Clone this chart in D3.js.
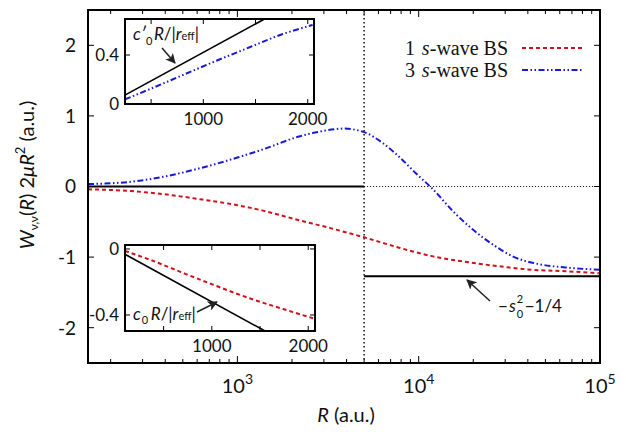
<!DOCTYPE html>
<html lang="en">
<head>
<meta charset="utf-8">
<title>W(R) curves</title>
<script src="https://d3js.org/d3.v7.min.js"></script>
<style>
body { margin: 0; background: white; }
text { font-family: Lato, "Noto Sans", sans-serif; fill: #111; white-space: pre; }
.frame { fill: none; stroke: black; stroke-width: 2; }
</style>
</head>
<body>
<script>

// main panel data
var rBlue = [150, 259, 395, 603, 1000, 1400, 2135, 2633, 3854, 5000, 6380, 7880, 9710, 12000, 15460, 19900, 25600, 33000, 46200, 64700, 100000];
var wBlue = [0.034, 0.067, 0.14, 0.25, 0.41, 0.53, 0.70, 0.76, 0.82, 0.77, 0.61, 0.41, 0.18, -0.04, -0.35, -0.61, -0.82, -0.99, -1.10, -1.147, -1.18];
var rRed = [150, 259, 395, 603, 1000, 1400, 2135, 3260, 5000, 7880, 12000, 18500, 27700, 42500, 64700, 100000];
var wRed = [-0.04, -0.065, -0.11, -0.175, -0.265, -0.345, -0.47, -0.59, -0.72, -0.87, -0.99, -1.07, -1.13, -1.18, -1.20, -1.23];
var rMatch = 5000;
var asym = -1.27;          // -s0^2 - 1/4
var yTicks = [-2, -1, 0, 1, 2];
var xMajor = [1e3, 1e4, 1e5];
var legendNames = ["1 ", "3 "];

// inset 1 (top)
var in1R = [250, 489, 806, 1125, 1443, 1760, 2047];
var in1W = [0.038, 0.122, 0.237, 0.353, 0.463, 0.571, 0.645];
var in1LineR = [250, 1586];
var in1LineW = [0.073, 0.694];
var in1YTicks = [0, 0.4];
// inset 2 (bottom)
var in2R = [100, 367, 710, 1020, 1397, 1740, 2050];
var in2W = [-0.012, -0.067, -0.147, -0.218, -0.30, -0.364, -0.42];
var in2LineR = [100, 1552];
var in2LineW = [-0.032, -0.497];
var in2YTicks = [0, -0.4];
var inXTicks = [500, 1000, 1500, 2000];
var inXLabels = [1000, 2000];

var red = "#d0101a", blue = "#1818d8";
var redDash = "4,3", blueDash = "6,2.5,1.5,2.5,1.5,2.5";

var svg = d3.select("body").append("svg")
  .attr("width", 626)
  .attr("height", 432);

var defs = svg.append("defs");
defs.append("marker")
  .attr("id", "head")
  .attr("viewBox", "0 0 10 10")
  .attr("refX", 9).attr("refY", 5)
  .attr("markerWidth", 10).attr("markerHeight", 10)
  .attr("markerUnits", "userSpaceOnUse")
  .attr("orient", "auto")
  .append("path").attr("d", "M0,0 L10,5 L0,10 L2.5,5 Z").attr("fill", "#222");

/* place pieces of text one after another, measuring each */
function rich(g, x, y, parts, size, anchor) {
  var grp = g.append("g");
  var cx = 0;
  parts.forEach(function(p) {
    var t = grp.append("text")
      .attr("x", cx).attr("y", p.dy || 0)
      .attr("font-size", p.s || size)
      .style("font-style", p.it ? "italic" : null)
      .style("font-family", p.f || null)
      .text(p.t);
    var w = t.node().getComputedTextLength();
    if (!p.stay) cx += w;
  });
  var off = anchor == "middle" ? -cx / 2 : anchor == "end" ? -cx : 0;
  grp.attr("transform", "translate(" + (x + off) + "," + y + ")");
  return grp;
}

// ---------- main panel
var x = d3.scaleLog().domain([150, 1e5]).range([88, 600]);
var y = d3.scaleLinear().domain([-2.5, 2.5]).range([363, 10]);

var main = svg.append("g");

// ticks
var minor = [];
[100, 1000, 10000].forEach(function(d) {
  for (var k = 2; k <= 9; k++) if (d * k >= 150 && d * k <= 1e5) minor.push(d * k);
});
minor.forEach(function(d) {
  main.append("line").attr("x1", x(d)).attr("x2", x(d)).attr("y1", 363).attr("y2", 359).attr("stroke", "black");
  main.append("line").attr("x1", x(d)).attr("x2", x(d)).attr("y1", 10).attr("y2", 14).attr("stroke", "black");
});
xMajor.forEach(function(d) {
  main.append("line").attr("x1", x(d)).attr("x2", x(d)).attr("y1", 363).attr("y2", 356).attr("stroke", "black");
  main.append("line").attr("x1", x(d)).attr("x2", x(d)).attr("y1", 10).attr("y2", 17).attr("stroke", "black");
  rich(main, x(d), 393, [{t: "10"}, {t: String(Math.round(Math.log10(d))), s: 14, dy: -9}], 20, "middle");
});
yTicks.forEach(function(d) {
  main.append("line").attr("x1", 88).attr("x2", 94).attr("y1", y(d)).attr("y2", y(d)).attr("stroke", "black");
  main.append("line").attr("x1", 600).attr("x2", 594).attr("y1", y(d)).attr("y2", y(d)).attr("stroke", "black");
  main.append("text").attr("x", 76).attr("y", y(d)).attr("dy", "0.36em")
    .attr("text-anchor", "end").attr("font-size", 19).text(d < 0 ? "-" + Math.abs(d) : d);
});

// reference lines
main.append("line").attr("x1", 88).attr("x2", x(rMatch)).attr("y1", y(0)).attr("y2", y(0))
  .attr("stroke", "black").attr("stroke-width", 2);
main.append("line").attr("x1", x(rMatch)).attr("x2", 600).attr("y1", y(0)).attr("y2", y(0))
  .attr("stroke", "black").attr("stroke-width", 1).attr("stroke-dasharray", "1,2");
main.append("line").attr("x1", x(rMatch)).attr("x2", x(rMatch)).attr("y1", 10).attr("y2", 363)
  .attr("stroke", "black").attr("stroke-width", 1.4).attr("stroke-dasharray", "1.5,2.5");
main.append("line").attr("x1", x(rMatch)).attr("x2", 600).attr("y1", y(asym)).attr("y2", y(asym))
  .attr("stroke", "black").attr("stroke-width", 2);

var lineMain = d3.line().curve(d3.curveMonotoneX)
  .x(function(d) { return x(d[0]); }).y(function(d) { return y(d[1]); });
main.append("path").datum(d3.zip(rRed, wRed)).attr("d", lineMain)
  .attr("fill", "none").attr("stroke", red).attr("stroke-width", 2).attr("stroke-dasharray", redDash);
main.append("path").datum(d3.zip(rBlue, wBlue)).attr("d", lineMain)
  .attr("fill", "none").attr("stroke", blue).attr("stroke-width", 2).attr("stroke-dasharray", blueDash);

main.append("rect").attr("class", "frame").attr("x", 88).attr("y", 10).attr("width", 512).attr("height", 353);

// legend
[[red, redDash], [blue, blueDash]].forEach(function(s, i) {
  var ly = 48 + i * 22;
  rich(main, 512, ly + 7, [{t: legendNames[i]}, {t: "s", it: true}, {t: "-wave BS"}], 20, "end")
    .selectAll("text").style("font-family", "'Liberation Serif', serif");
  main.append("line").attr("x1", 522).attr("x2", 584).attr("y1", ly).attr("y2", ly)
    .attr("stroke", s[0]).attr("stroke-width", 2).attr("stroke-dasharray", s[1]);
});

// asymptote label + arrow
main.append("line").attr("x1", 490).attr("y1", 301).attr("x2", 467).attr("y2", 280)
  .attr("stroke", "#222").attr("stroke-width", 1.5).attr("marker-end", "url(#head)");
var al = main.append("g").attr("transform", "translate(498,312)");
var t1 = al.append("text").attr("font-size", 17).attr("fill", "#333").text("\u2212");
var w1 = t1.node().getComputedTextLength();
var t2 = al.append("text").attr("x", w1 + 1).attr("font-size", 17).style("font-style", "italic").text("s");
var w2 = w1 + 1 + t2.node().getComputedTextLength();
al.append("text").attr("x", w2 + 1).attr("y", -9).attr("font-size", 11).text("2");
al.append("text").attr("x", w2 + 1).attr("y", 6).attr("font-size", 11).text("0");
al.append("text").attr("x", w2 + 9).attr("font-size", 17).text("\u22121/4");

// axis labels
rich(main, 346, 422, [{t: "R", it: true}, {t: " (a.u.)"}], 20, "middle");
var yl = main.append("g").attr("transform", "translate(34,175) rotate(-90)");
rich(yl, 0, 0, [
  {t: "W", it: true}, {t: "\u03bd,\u03bd", s: 12, dy: 4}, {t: "("}, {t: "R", it: true}, {t: ") 2"},
  {t: "\u03bc", it: true}, {t: "R", it: true}, {t: "2", s: 13, dy: -9}, {t: " (a.u.)"}
], 20, "middle");

// ---------- insets
function inset(id, box, xDom, yDom, cR, cW, col, dash, lR, lW, yt) {
  var g = svg.append("g");
  var ix = d3.scaleLinear().domain(xDom).range([box[0], box[2]]);
  var iy = d3.scaleLinear().domain(yDom).range([box[3], box[1]]);
  g.append("rect").attr("x", box[0]).attr("y", box[1]).attr("width", box[2] - box[0])
    .attr("height", box[3] - box[1]).attr("fill", "white");
  defs.append("clipPath").attr("id", id).append("rect").attr("x", box[0]).attr("y", box[1])
    .attr("width", box[2] - box[0]).attr("height", box[3] - box[1]);
  inXTicks.forEach(function(d) {
    g.append("line").attr("x1", ix(d)).attr("x2", ix(d)).attr("y1", box[3]).attr("y2", box[3] - 5).attr("stroke", "black");
    g.append("line").attr("x1", ix(d)).attr("x2", ix(d)).attr("y1", box[1]).attr("y2", box[1] + 5).attr("stroke", "black");
  });
  inXLabels.forEach(function(d) {
    g.append("text").attr("x", ix(d)).attr("y", box[3] + 21).attr("text-anchor", "middle")
      .attr("font-size", 17).text(d);
  });
  yt.forEach(function(d) {
    g.append("line").attr("x1", box[0]).attr("x2", box[0] + 5).attr("y1", iy(d)).attr("y2", iy(d)).attr("stroke", "black");
    g.append("line").attr("x1", box[2]).attr("x2", box[2] - 5).attr("y1", iy(d)).attr("y2", iy(d)).attr("stroke", "black");
    g.append("text").attr("x", 119).attr("y", iy(d)).attr("dy", "0.36em").attr("text-anchor", "end")
      .attr("font-size", 17).text(d < 0 ? "-" + Math.abs(d) : d);
  });
  var ln = d3.line().x(function(d) { return ix(d[0]); }).y(function(d) { return iy(d[1]); });
  var cg = g.append("g").attr("clip-path", "url(#" + id + ")");
  cg.append("path").datum(d3.zip(lR, lW)).attr("d", ln)
    .attr("fill", "none").attr("stroke", "black").attr("stroke-width", 1.6);
  cg.append("path").datum(d3.zip(cR, cW)).attr("d", ln.curve(d3.curveMonotoneX))
    .attr("fill", "none").attr("stroke", col).attr("stroke-width", 2).attr("stroke-dasharray", dash);
  g.append("rect").attr("class", "frame").attr("x", box[0]).attr("y", box[1])
    .attr("width", box[2] - box[0]).attr("height", box[3] - box[1]);
  return g;
}

var g1 = inset("c1", [125, 19, 314, 104], [250, 2060], [0, 0.694], in1R, in1W, blue, blueDash,
  in1LineR, in1LineW, in1YTicks);
var g2 = inset("c2", [125, 245, 315, 331], [100, 2070], [-0.497, 0.024], in2R, in2W, red, redDash,
  in2LineR, in2LineW, in2YTicks);

// inset labels
var lab1 = g1.append("g").attr("transform", "translate(133,40)");
var c1 = lab1.append("text").attr("font-size", 17).attr("fill", "#333").style("font-style", "italic").text("c\u2032");
var cw = c1.node().getComputedTextLength();
lab1.append("text").attr("x", cw).attr("y", 5).attr("font-size", 11).text("0");
rich(lab1, cw + 8, 0, [{t: "R", it: true}, {t: "/|"}, {t: "r", it: true}, {t: "eff", s: 11}, {t: "|"}], 17, "start");
g1.append("line").attr("x1", 162).attr("y1", 48).attr("x2", 175).attr("y2", 63)
  .attr("stroke", "#222").attr("stroke-width", 1.5).attr("marker-end", "url(#head)");

var lab2 = g2.append("g").attr("transform", "translate(133,320)");
var c2 = lab2.append("text").attr("font-size", 17).style("font-style", "italic").text("c");
var cw2 = c2.node().getComputedTextLength();
lab2.append("text").attr("x", cw2 + 1).attr("y", 4).attr("font-size", 11).text("0");
rich(lab2, cw2 + 10, 0, [{t: "R", it: true}, {t: "/|"}, {t: "r", it: true}, {t: "eff", s: 11}, {t: "|"}], 17, "start");
g2.append("line").attr("x1", 197).attr("y1", 312).attr("x2", 217).attr("y2", 302)
  .attr("stroke", "#222").attr("stroke-width", 1.5).attr("marker-end", "url(#head)");

</script>
</body>
</html>
